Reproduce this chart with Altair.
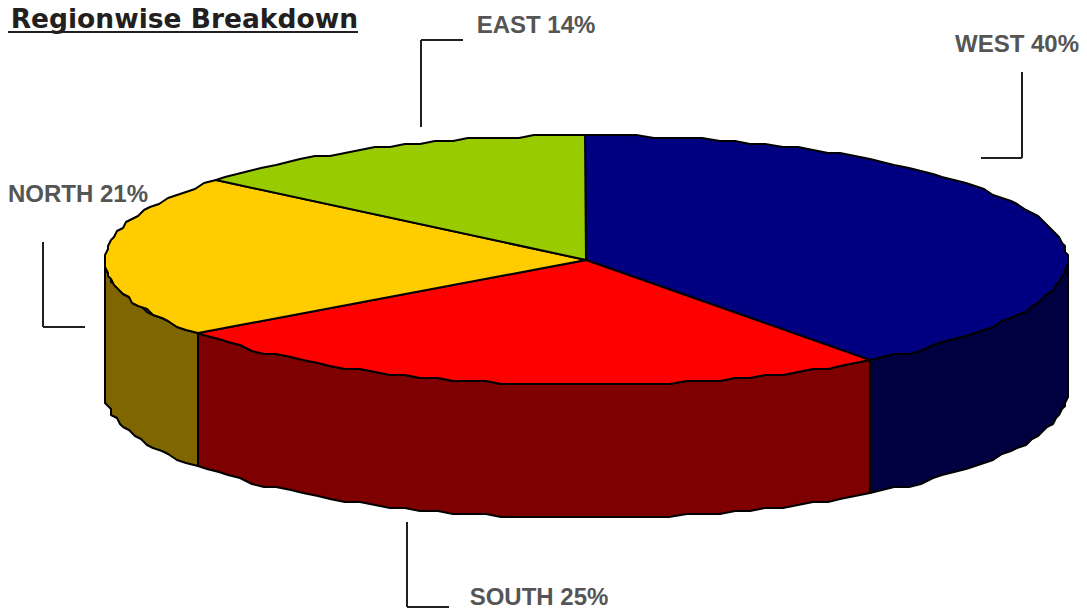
import math
import altair as alt
import pandas as pd

regions = ["WEST", "SOUTH", "NORTH", "EAST"]
shares = [40, 25, 21, 14]
top_colors = ["#000080", "#ff0000", "#ffcc00", "#99cc00"]
side_colors = ["#000040", "#7f0000", "#806600", "#4d6600"]
labels = ["WEST 40%", "SOUTH 25%", "NORTH 21%", "EAST 14%"]
label_x = [1017, 539, 78, 536]
label_y = [52, 605, 202, 33]

# leader lines: (x, y) to (x2, y2)
lead_x = [981, 1022, 407, 407, 43, 43, 421, 421]
lead_y = [158, 158, 607, 607, 327, 327, 40, 40]
lead_x2 = [1022, 1022, 407, 449, 43, 85, 421, 463]
lead_y2 = [158, 72, 522, 607, 242, 327, 127, 40]

CX, CY, RX, RY, DEPTH = 586, 260, 481, 124.5, 133
STEP = 2
GRID = 3


def rim(theta, drop=0):
    r = math.radians(theta)
    x = CX + RX * math.sin(r)
    y = CY - RY * math.cos(r)
    return round(x / GRID) * GRID, round(y / GRID) * GRID + drop


def arc(a, b, drop=0):
    n = max(2, int(abs(b - a) / STEP))
    return [rim(a + (b - a) * i / n, drop) for i in range(n + 1)]


top_rows, side_rows = [], []
start = 0.0
for name, share, tc, sc in zip(regions, shares, top_colors, side_colors):
    end = start + share * 3.6
    pts = [(CX, CY)] + arc(start, end) + [(CX, CY)]
    for i, (x, y) in enumerate(pts):
        top_rows.append(dict(name=name, i=i, x=x, y=y, fill=tc))
    a, b = max(start, 90), min(end, 270)
    if a < b:
        pts = arc(a, b) + arc(b, a, DEPTH)
        pts.append(pts[0])
        for i, (x, y) in enumerate(pts):
            side_rows.append(dict(name=name, i=i, x=x, y=y, fill=sc))
    start = end

xs = alt.Scale(domain=[8, 1079], range=[0, 1071], nice=False, zero=False)
ys = alt.Scale(domain=[8, 610], range=[0, 602], nice=False, zero=False)
X = alt.X("x:Q", scale=xs, axis=None)
Y = alt.Y("y:Q", scale=ys, axis=None)


def slices(rows):
    return alt.Chart(pd.DataFrame(rows)).mark_line(
        stroke="black", strokeWidth=2, strokeJoin="round"
    ).encode(
        x=X, y=Y, detail="name:N", order="i:Q", fill=alt.Fill("fill:N", scale=None)
    )


leaders = alt.Chart(
    pd.DataFrame(dict(x=lead_x, y=lead_y, x2=lead_x2, y2=lead_y2))
).mark_rule(color="#231f20", strokeWidth=2).encode(x=X, y=Y, x2="x2:Q", y2="y2:Q")

texts = alt.Chart(pd.DataFrame(dict(x=label_x, y=label_y, t=labels))).mark_text(
    font="Liberation Sans", fontWeight="bold", fontSize=24, color="#555555",
    align="center", baseline="alphabetic",
).encode(x=X, y=Y, text="t:N")

title = alt.Chart(pd.DataFrame(dict(x=[358], y=[28], t=["Regionwise Breakdown"]))).mark_text(
    font="DejaVu Sans", fontWeight="bold", fontSize=26.5, color="#231f20",
    align="right", baseline="alphabetic",
).encode(x=X, y=Y, text="t:N")

underline = alt.Chart(pd.DataFrame(dict(x=[8], x2=[358], y=[32]))).mark_rule(
    color="#231f20", strokeWidth=2
).encode(x=X, x2="x2:Q", y=Y)

chart = alt.layer(
    slices(side_rows), slices(top_rows), leaders, texts, title, underline
).properties(
    width=1071, height=602, padding=0, autosize=alt.AutoSizeParams(type="none")
).configure_view(stroke=None)

chart.save("out.html", embed_options={"renderer": "svg", "actions": False})
